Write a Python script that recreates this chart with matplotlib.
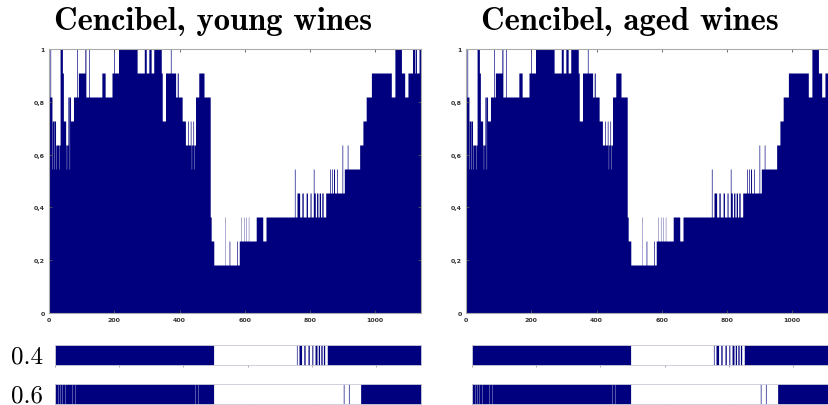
import numpy as np
import matplotlib
matplotlib.use("Agg")
import matplotlib.pyplot as plt
from matplotlib.ticker import FuncFormatter

# step profile: each run starts at *_starts[i] and has level *_levels[i] (out of 11)
young_starts = [0, 3, 5, 9, 10, 15, 16, 20, 22, 23, 30, 31, 34, 41, 44, 51, 53, 54, 58, 62,
                63, 66, 75, 85, 87, 90, 110, 113, 121, 123, 162, 172, 193, 198, 200, 213, 270,
                292, 298, 306, 313, 321, 344, 347, 357, 372, 374, 388, 393, 396, 408, 418, 425,
                427, 433, 435, 436, 437, 441, 443, 444, 445, 449, 459, 475,
                494, 497, 505, 538, 539, 552, 554, 575, 577, 583, 588, 589, 596, 597, 603, 604,
                611, 612, 635, 655, 665, 752, 754, 760, 768, 775, 779, 788, 792, 800, 803, 810,
                812, 816, 820, 824, 828, 832, 836, 840, 848, 860, 862, 866, 868, 872, 875, 882,
                884, 898, 900, 905, 914, 916, 952, 962, 972, 988, 1049, 1060, 1080, 1090, 1100,
                1114, 1120, 1122, 1126, 1134]
young_levels = [9, 11, 9, 6, 8, 6, 8, 7, 6, 7, 6, 7, 11, 10, 8, 7, 6, 7, 9, 6,
                9, 8, 9, 11, 9, 10, 11, 9, 11, 9, 10, 9, 10, 11, 10, 11, 10,
                11, 10, 11, 10, 11, 10, 8, 10, 11, 10, 9, 10, 9, 8, 7, 8,
                7, 8, 7, 6, 7, 8, 7, 6, 7, 9, 10, 9,
                4, 3, 2, 4, 2, 3, 2, 3, 2, 3, 4, 3, 4, 3, 4, 3,
                4, 3, 4, 3, 4, 6, 4, 5, 4, 5, 4, 5, 4, 5, 4, 6,
                5, 4, 5, 4, 5, 4, 5, 4, 5, 6, 5, 6, 5, 6, 5, 6,
                5, 7, 5, 6, 7, 6, 7, 8, 9, 10, 9, 11, 10, 9, 10,
                11, 10, 11, 10, 11]
young_end = 1140

aged_starts = list(young_starts)
aged_levels = list(young_levels)
aged_end = 1140

n_levels = 11
thresholds = [0.4, 0.6]
titles = ["Cencibel, young wines", "Cencibel, aged wines"]
x_ticks = [0, 200, 400, 600, 800, 1000]
y_ticks = [0, 0.2, 0.4, 0.6, 0.8, 1]

navy = "#00007f"
W, H = 829, 406

fig = plt.figure(figsize=(W / 100, H / 100), dpi=100)


def px_axes(x0, y0, w, h):
    return fig.add_axes([x0 / W, 1 - (y0 + h) / H, w / W, h / H])


def comma_fmt(v, pos):
    s = "%g" % v
    return s.replace(".", ",")


def step_xy(starts, values, end):
    # edges of every run plus the closing edge, value repeated for step='post'
    x = np.append(np.asarray(starts, dtype=float), end)
    y = np.append(values, values[-1])
    return x, y


def fill_steps(ax, x, y):
    coll = ax.fill_between(x, 0, y, step="post", color=navy, linewidth=0, antialiased=True)
    # keep sub-pixel runs as partial coverage instead of snapping to whole pixels
    coll.set_snap(False)
    return coll


panels = [(young_starts, young_levels, young_end, 49, 55),
          (aged_starts, aged_levels, aged_end, 466, 472)]

for i, (st, lv, end, x_main, x_strip) in enumerate(panels):
    v = np.array(lv) / n_levels
    x, y = step_xy(st, v, end)

    ax = px_axes(x_main, 50, 372, 264)
    fill_steps(ax, x, y)
    ax.set_xlim(0, 1140)
    ax.set_ylim(0, 1)
    ax.set_xticks(x_ticks)
    ax.set_yticks(y_ticks)
    ax.xaxis.set_major_formatter(FuncFormatter(comma_fmt))
    ax.yaxis.set_major_formatter(FuncFormatter(comma_fmt))
    ax.tick_params(direction="in", length=2, width=0.6, labelsize=4.5, pad=3,
                   top=True, right=True, colors="#555555", labelcolor="#333333")
    for lab in ax.get_xticklabels() + ax.get_yticklabels():
        lab.set_fontweight("bold")
    for sp in ax.spines.values():
        sp.set_color("#aaaaaa")
        sp.set_linewidth(0.8)

    fig.text((x_main + 164) / W, 1 - 22 / H, titles[i], ha="center", va="center",
             fontfamily="cmb10", fontsize=23.5)

    # thresholded strips below each profile
    for j, thr in enumerate(thresholds):
        y0 = 346 + j * 39
        on = (v >= thr - 1e-9).astype(float)
        sx, sy = step_xy(st, on, end)
        sa = px_axes(x_strip, y0, 366, 20)
        fill_steps(sa, sx, sy)
        sa.set_xlim(0, 1140)
        sa.set_ylim(0, 1)
        sa.set_yticks([])
        sa.set_xticks(x_ticks)
        sa.tick_params(axis="x", direction="out", length=1.5, width=0.5,
                       labelbottom=False, colors="#888888")
        for sp in sa.spines.values():
            sp.set_color("#c8c8d8")
            sp.set_linewidth(0.6)
        if i == 0:
            fig.text(27 / W, 1 - (y0 + 11) / H, "%.1f" % thr, ha="center", va="center",
                     fontfamily="cmr10", fontsize=18)

fig.savefig("out.png", dpi=100)
